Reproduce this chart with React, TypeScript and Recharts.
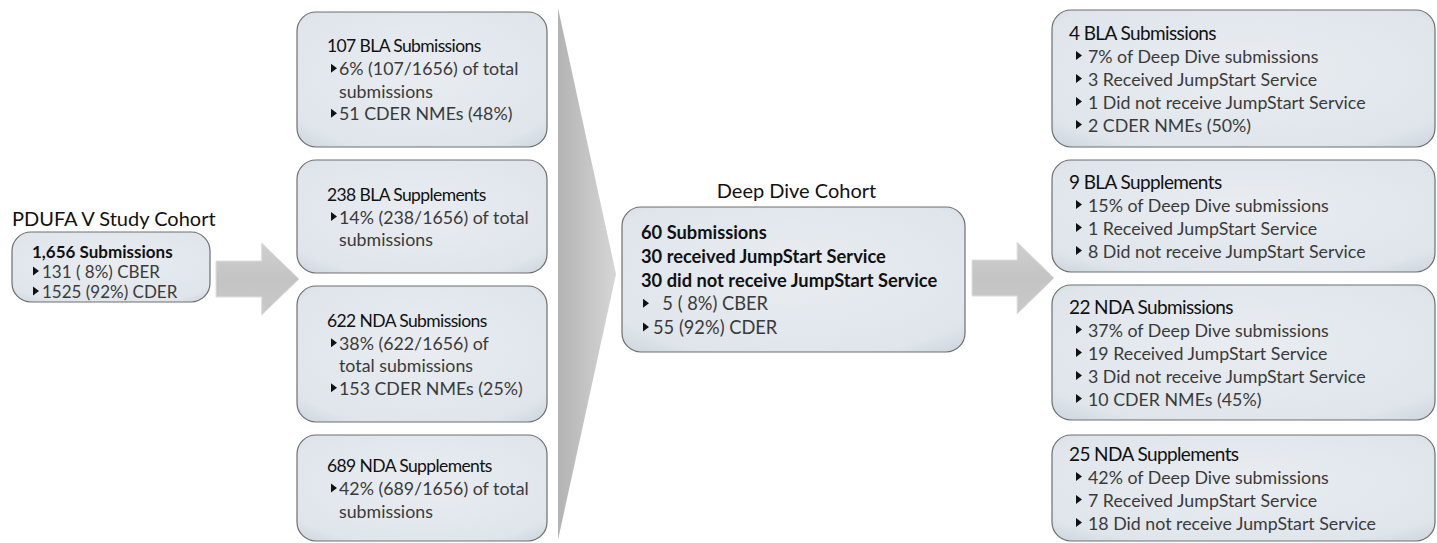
import React from "react";
import { ComposedChart, XAxis, YAxis, ReferenceArea } from "recharts";

const W = 1437;
const H = 543;

// ---- content ----
const cohortTitle = "PDUFA V Study Cohort";
const cohortHead = ["1,656 Submissions"];
const cohortBullets = [["131 ( 8%) CBER"], ["1525 (92%) CDER"]];

const typeTitles = ["107 BLA Submissions", "238 BLA Supplements", "622 NDA Submissions", "689 NDA Supplements"];
const typeBullets = [
  [["6% (107/1656) of total", "submissions"], ["51 CDER NMEs (48%)"]],
  [["14% (238/1656) of total", "submissions"]],
  [["38% (622/1656) of", "total submissions"], ["153 CDER NMEs (25%)"]],
  [["42% (689/1656) of total", "submissions"]],
];

const diveTitle = "Deep Dive Cohort";
const diveHead = ["60 Submissions", "30 received JumpStart Service", "30 did not receive JumpStart Service"];
const diveBullets = [["  5 ( 8%) CBER"], ["55 (92%) CDER"]];

const detailTitles = ["4 BLA Submissions", "9 BLA Supplements", "22 NDA Submissions", "25 NDA Supplements"];
const detailBullets = [
  [["7% of Deep Dive submissions"], ["3 Received JumpStart Service"], ["1 Did not receive JumpStart Service"], ["2 CDER NMEs (50%)"]],
  [["15% of Deep Dive submissions"], ["1 Received JumpStart Service"], ["8 Did not receive JumpStart Service"]],
  [["37% of Deep Dive submissions"], ["19 Received JumpStart Service"], ["3 Did not receive JumpStart Service"], ["10 CDER NMEs (45%)"]],
  [["42% of Deep Dive submissions"], ["7 Received JumpStart Service"], ["18 Did not receive JumpStart Service"]],
];

// ---- layout (diagram units = pixels) ----
const cohortBox = { x1: 12, x2: 210, y1: 232, y2: 302 };
const typeBoxes = [
  { y1: 12, y2: 147 },
  { y1: 160, y2: 273 },
  { y1: 286, y2: 422 },
  { y1: 435, y2: 541 },
];
const typeX = [297, 547];
const diveBox = { x1: 622, x2: 965, y1: 207, y2: 352 };
const detailBoxes = [
  { y1: 10, y2: 147 },
  { y1: 160, y2: 272 },
  { y1: 285, y2: 420 },
  { y1: 435, y2: 541 },
];
const detailX = [1052, 1435];
const arrows = [
  { x1: 216, x2: 299, y1: 243, y2: 315 },
  { x1: 972, x2: 1054, y1: 242, y2: 314 },
];
const funnel = { x1: 558, x2: 616, y1: 8, y2: 540 };

const FONT = "Lato, 'Open Sans', sans-serif";

type Line = { text: string; kind: "title" | "bold" | "bullet" | "cont" };

function buildLines(head: string[], headKind: "title" | "bold", bullets: string[][]): Line[] {
  const out: Line[] = head.map((t) => ({ text: t, kind: headKind }));
  bullets.forEach((b) => b.forEach((t, i) => out.push({ text: t, kind: i === 0 ? "bullet" : "cont" })));
  return out;
}

type Pad = { title: number; bullet: number; text: number; gap: number; size: number; titleSize: number; top?: number };

function makeBox(lines: Line[], pad: Pad, id: string) {
  return (props: any) => {
    const { x, y, width, height } = props;
    const n = lines.length;
    const first = pad.top !== undefined ? y + pad.top : y + height / 2 - ((n - 1) * pad.gap) / 2;
    return (
      <g>
        <defs>
          <radialGradient id={id} cx="50%" cy="45%" r="75%">
            <stop offset="0%" stopColor="#e9edf2" />
            <stop offset="80%" stopColor="#dfe5eb" />
            <stop offset="100%" stopColor="#ccd3db" />
          </radialGradient>
        </defs>
        <rect x={x} y={y} width={width} height={height} rx={19} ry={19} fill={`url(#${id})`} stroke="#6f6f6f" strokeWidth={1.2} />
        {lines.map((l, i) => {
          const ly = first + i * pad.gap;
          if (l.kind === "title" || l.kind === "bold") {
            return (
              <text key={i} x={x + pad.title} y={ly} dominantBaseline="central" fontFamily={FONT}
                fontSize={l.kind === "title" ? pad.titleSize : pad.size} fontWeight={l.kind === "bold" ? 700 : 400}
                letterSpacing={l.kind === "title" ? -0.6 : 0} fill="#111" style={{ whiteSpace: "pre" }}>
                {l.text}
              </text>
            );
          }
          return (
            <g key={i}>
              {l.kind === "bullet" && (
                <path d={`M${x + pad.bullet},${ly - 4.5} L${x + pad.bullet + 6},${ly} L${x + pad.bullet},${ly + 4.5} Z`} fill="#111" />
              )}
              <text x={x + pad.text} y={ly} dominantBaseline="central" fontFamily={FONT} fontSize={pad.size}
                fill="#3a3a3a" style={{ whiteSpace: "pre" }}>
                {l.text}
              </text>
            </g>
          );
        })}
      </g>
    );
  };
}

function arrowShape(props: any) {
  const { x, y, width, height } = props;
  const cy = y + height / 2;
  const hx = x + width * 0.55;
  const bh = height / 4;
  const d = `M${x},${cy - bh} L${hx},${cy - bh} L${hx},${y} L${x + width},${cy} L${hx},${y + height} L${hx},${cy + bh} L${x},${cy + bh} Z`;
  return (
    <g>
      <defs>
        <linearGradient id="arrowFill" x1="0" y1="0" x2="0" y2="1">
          <stop offset="0%" stopColor="#cfcfcf" />
          <stop offset="50%" stopColor="#c4c4c4" />
          <stop offset="100%" stopColor="#c9c9c9" />
        </linearGradient>
      </defs>
      <path d={d} fill="url(#arrowFill)" stroke="#dedede" strokeWidth={1} />
    </g>
  );
}

function funnelShape(props: any) {
  const { x, y, width, height } = props;
  const d = `M${x},${y} L${x + width},${y + height / 2} L${x},${y + height} Z`;
  return (
    <g>
      <defs>
        <linearGradient id="funnelFill" x1="0" y1="0" x2="1" y2="0">
          <stop offset="0%" stopColor="#b3b3b3" />
          <stop offset="100%" stopColor="#d6d6d6" />
        </linearGradient>
      </defs>
      <path d={d} fill="url(#funnelFill)" />
    </g>
  );
}

const cohortLines = buildLines(cohortHead, "bold", cohortBullets);
const diveLines = buildLines(diveHead, "bold", diveBullets);

const typePad: Pad = { title: 30, bullet: 34, text: 42, gap: 22.5, size: 17.8, titleSize: 17.5 };
const detailPad: Pad = { title: 17, bullet: 24, text: 36, gap: 23, size: 17.8, titleSize: 19 };
const divePad: Pad = { title: 19, bullet: 21, text: 31, gap: 23.7, size: 18.3, titleSize: 18 };
const cohortPad: Pad = { title: 20, bullet: 21, text: 30, gap: 20, size: 17, titleSize: 17, top: 19 };

function caption(text: string, anchor: "start" | "middle", dx: number, dy: number) {
  return (props: any) => {
    const { x, y, width } = props;
    const tx = anchor === "middle" ? x + width / 2 + dx : x + dx;
    return (
      <text x={tx} y={y + dy} textAnchor={anchor} dominantBaseline="central" fontFamily={FONT} fontSize={20} fill="#111">
        {text}
      </text>
    );
  };
}

export default function App() {
  return (
    <div style={{ position: "absolute", left: 0, top: 0, width: W, height: H, background: "#fff" }}>
      <ComposedChart width={W} height={H} margin={{ top: 0, right: 0, bottom: 0, left: 0 }}>
        <XAxis type="number" dataKey="x" domain={[0, W]} allowDataOverflow hide />
        <YAxis type="number" dataKey="y" domain={[0, H]} allowDataOverflow reversed hide />

        <ReferenceArea {...funnel} shape={funnelShape} ifOverflow="visible" />
        {arrows.map((a, i) => (
          <ReferenceArea key={`a${i}`} {...a} shape={arrowShape} ifOverflow="visible" />
        ))}

        <ReferenceArea {...cohortBox} shape={makeBox(cohortLines, cohortPad, "gCohort")} ifOverflow="visible" />
        <ReferenceArea x1={cohortBox.x1} x2={cohortBox.x2} y1={cohortBox.y1 - 24} y2={cohortBox.y1}
          shape={caption(cohortTitle, "start", 0, 10)} ifOverflow="visible" />

        {typeBoxes.map((b, i) => (
          <ReferenceArea key={`t${i}`} x1={typeX[0]} x2={typeX[1]} y1={b.y1} y2={b.y2}
            shape={makeBox(buildLines([typeTitles[i]], "title", typeBullets[i]), typePad, `gType${i}`)} ifOverflow="visible" />
        ))}

        <ReferenceArea {...diveBox} shape={makeBox(diveLines, divePad, "gDive")} ifOverflow="visible" />
        <ReferenceArea x1={diveBox.x1} x2={diveBox.x2} y1={diveBox.y1 - 24} y2={diveBox.y1}
          shape={caption(diveTitle, "middle", 3, 7)} ifOverflow="visible" />

        {detailBoxes.map((b, i) => (
          <ReferenceArea key={`d${i}`} x1={detailX[0]} x2={detailX[1]} y1={b.y1} y2={b.y2}
            shape={makeBox(buildLines([detailTitles[i]], "title", detailBullets[i]), detailPad, `gDetail${i}`)} ifOverflow="visible" />
        ))}
      </ComposedChart>
    </div>
  );
}
